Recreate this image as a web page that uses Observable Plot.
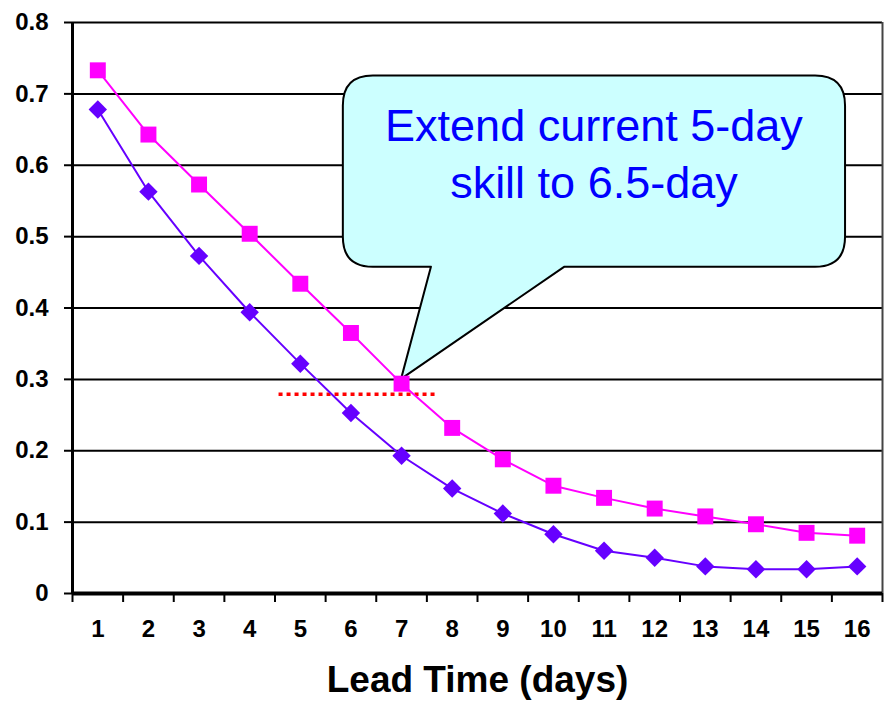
<!DOCTYPE html>
<html>
<head>
<meta charset="utf-8">
<script src="https://cdn.jsdelivr.net/npm/d3@7"></script>
<script src="https://cdn.jsdelivr.net/npm/@observablehq/plot@0.6"></script>
<style>
  html, body { margin: 0; padding: 0; background: #fff; }
  #chart svg { display: block; }
</style>
</head>
<body>
<div id="chart"></div>
<script>
// ---- data ----
const days = [1, 2, 3, 4, 5, 6, 7, 8, 9, 10, 11, 12, 13, 14, 15, 16];
const seriesMagenta = [0.733, 0.643, 0.573, 0.504, 0.434, 0.365, 0.294, 0.232, 0.188, 0.151, 0.134, 0.119, 0.108, 0.097, 0.085, 0.081];
const seriesPurple  = [0.678, 0.563, 0.473, 0.394, 0.322, 0.253, 0.193, 0.147, 0.112, 0.083, 0.060, 0.050, 0.038, 0.034, 0.034, 0.038];
const yTicks = [0, 0.1, 0.2, 0.3, 0.4, 0.5, 0.6, 0.7, 0.8];
const xTitle = "Lead Time (days)";
const calloutLines = ["Extend current 5-day", "skill to 6.5-day"];
// callout geometry in data units (day, value)
const calloutBox = {x1: 5.85, x2: 15.77, y1: 0.457, y2: 0.725};
const calloutPointer = {baseX1: 7.59, baseX2: 10.22, tipX: 7, tipY: 0.3};
// red dotted reference line (day range, value)
const refLine = [{x1: 4.58, x2: 7.67, y: 0.279}];

const magenta = days.map((d, i) => ({day: d, value: seriesMagenta[i]}));
const purple = days.map((d, i) => ({day: d, value: seriesPurple[i]}));
const boundaries = [0, ...days].map(d => d + 0.5);

function callout(index, scales) {
  const x = scales.x, y = scales.y;
  const L = x(calloutBox.x1), R = x(calloutBox.x2);
  const T = y(calloutBox.y2), B = y(calloutBox.y1);
  const r = 30;
  const bx1 = x(calloutPointer.baseX1), bx2 = x(calloutPointer.baseX2);
  const tx = x(calloutPointer.tipX), ty = y(calloutPointer.tipY);
  const path = [
    `M${L + r},${T}`,
    `L${R - r},${T}`,
    `Q${R},${T} ${R},${T + r}`,
    `L${R},${B - r}`,
    `Q${R},${B} ${R - r},${B}`,
    `L${bx2},${B}`,
    `L${tx},${ty}`,
    `L${bx1},${B}`,
    `L${L + r},${B}`,
    `Q${L},${B} ${L},${B - r}`,
    `L${L},${T + r}`,
    `Q${L},${T} ${L + r},${T}`,
    "Z"
  ].join(" ");
  const g = d3.create("svg:g");
  g.append("path")
    .attr("d", path)
    .attr("fill", "#CCFFFF")
    .attr("stroke", "#000")
    .attr("stroke-width", 2)
    .attr("stroke-linejoin", "round");
  const cx = (L + R) / 2;
  const t = g.append("text")
    .attr("text-anchor", "middle")
    .attr("fill", "#0000FF")
    .attr("font-family", "Liberation Sans, Arial, sans-serif")
    .attr("font-size", 45);
  calloutLines.forEach((line, i) => {
    t.append("tspan").attr("x", cx).attr("y", T + 65 + i * 57).text(line);
  });
  return g.node();
}

const chart = Plot.plot({
  width: 886,
  height: 701,
  marginLeft: 72,
  marginRight: 4,
  marginTop: 22,
  marginBottom: 108,
  style: {fontFamily: "Liberation Sans, Arial, sans-serif", background: "#fff", color: "#000"},
  x: {type: "linear", domain: [0.5, 16.5]},
  y: {domain: [0, 0.8]},
  marks: [
    Plot.gridY(yTicks.slice(1), {stroke: "#000", strokeOpacity: 1, strokeWidth: 2}),
    Plot.ruleX([16.5], {stroke: "#444", strokeWidth: 2}),
    callout,
    Plot.ruleY(refLine, {x1: "x1", x2: "x2", y: "y", stroke: "#FF0000", strokeWidth: 3.5, strokeDasharray: "4,4"}),
    Plot.line(magenta, {x: "day", y: "value", stroke: "#FF00FF", strokeWidth: 2}),
    Plot.line(purple, {x: "day", y: "value", stroke: "#6600FF", strokeWidth: 2}),
    Plot.dot(magenta, {x: "day", y: "value", symbol: "square", r: 9, fill: "#FF00FF"}),
    Plot.dot(purple, {x: "day", y: "value", symbol: "diamond2", r: 8.3, fill: "#6600FF"}),
    Plot.ruleX([0.5], {stroke: "#000", strokeWidth: 3}),
    Plot.ruleY([0], {stroke: "#000", strokeWidth: 4}),
    Plot.axisY({ticks: yTicks, tickSize: 8, tickPadding: 16, tickFormat: d => d === 0 ? "0" : d.toFixed(1),
      fontSize: 24, fontWeight: "bold", label: null, stroke: "#000", strokeWidth: 2}),
    Plot.axisX({ticks: boundaries, tickSize: 9, tickFormat: null, text: null, label: null, stroke: "#000", strokeWidth: 2}),
    Plot.axisX({ticks: days, tickSize: 0, tickPadding: 26, tickFormat: d => String(d),
      fontSize: 24, fontWeight: "bold", label: null}),
    Plot.text([xTitle], {frameAnchor: "bottom", dy: 87, text: d => d, fontSize: 37, fontWeight: "bold", fill: "#000", lineAnchor: "middle"})
  ]
});
document.getElementById("chart").appendChild(chart);
</script>
</body>
</html>
